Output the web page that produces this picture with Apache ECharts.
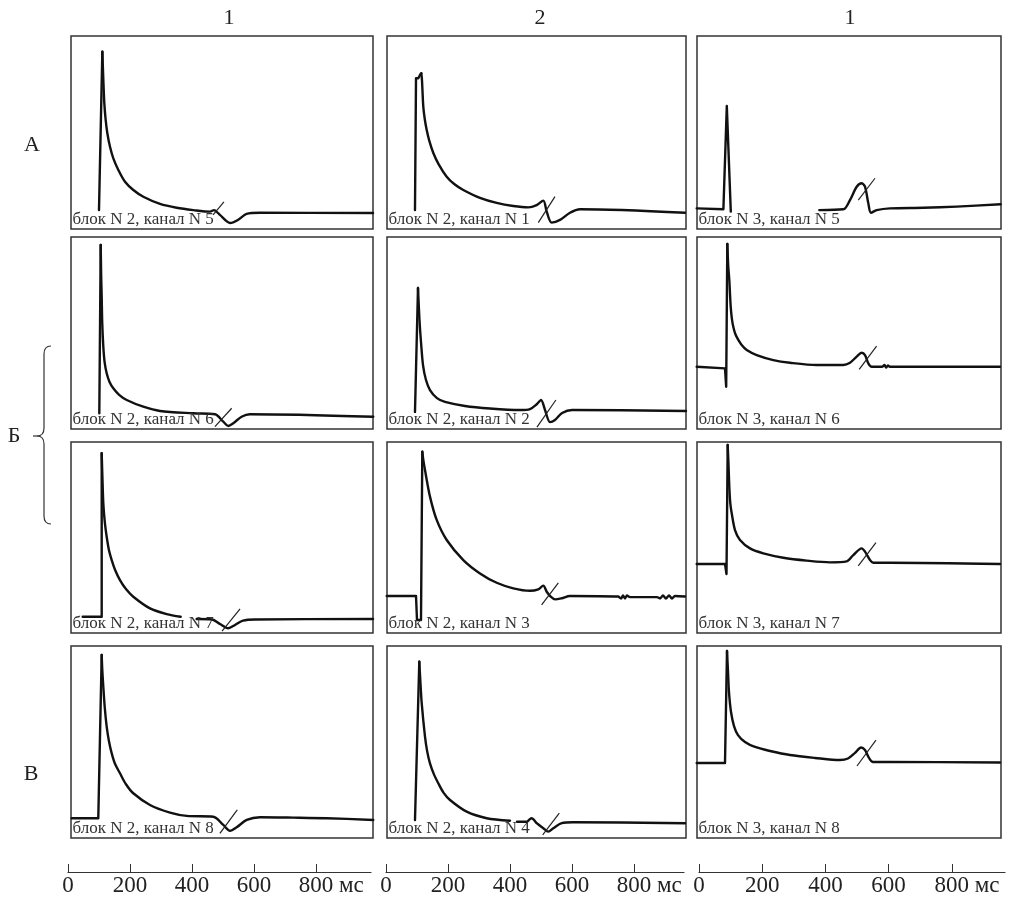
<!DOCTYPE html>
<html><head><meta charset="utf-8">
<script src="https://cdn.jsdelivr.net/npm/echarts@6/dist/echarts.min.js"></script>
<style>html,body{margin:0;padding:0;background:#fff}#c{width:1011px;height:904px}</style>
</head><body><div id="c"></div>
<script>
// ---------- text ----------
const colHeaders = ['1', '2', '1'];
const rowLabels = ['А', 'Б', 'В'];
const tickValues = [0, 200, 400, 600, 800];
const unitLabel = 'мс';
const panelLabels = [
  ['блок N 2, канал N 5', 'блок N 2, канал N 1', 'блок N 3, канал N 5'],
  ['блок N 2, канал N 6', 'блок N 2, канал N 2', 'блок N 3, канал N 6'],
  ['блок N 2, канал N 7', 'блок N 2, канал N 3', 'блок N 3, канал N 7'],
  ['блок N 2, канал N 8', 'блок N 2, канал N 4', 'блок N 3, канал N 8']
];

// ---------- traces: [time ms, amplitude % of panel height] ----------
// rise*: sharp stimulus part (straight segments), decay*: smooth response segments, slash*: hand marker
const riseA1 = [[100,9.8],[110.8,91.9]];
const decayA1 = [[[110.8,91.9],[114,77.2],[117.2,65.1],[121.5,56.5],[126.9,49.6],[135.5,42.6],[146.2,36.6],[162.4,30.6],[183.9,24.5],[210.8,20.2],[243,16.7],[296.8,13.0],[350.5,11.0],[404.3,9.8],[458,9.0],[471,9.8],[490,7.3],[523,3.1],[548,4.7],[576,7.8],[619,8.4],[984,8.3]]];
const slashA1 = [[468,7.3],[503,14.1]];

const riseA2 = [[93.5,9.8],[96.8,78.1],[104.2,78.1],[107.4,78.9],[111.3,80.3],[113.9,80.7]];
const decayA2 = [[[113.9,80.7],[116,77.2],[120.3,63.4],[125,57],[131.3,51.3],[140,45.5],[152.6,39.4],[170,33.5],[195.8,27.1],[220,23.3],[249.4,20.2],[303,16.1],[357,13.5],[410.6,11.9],[459,11.2],[486,12.4],[507.4,14.7],[518.4,9.0],[534.5,3.3],[561.3,4.7],[593.5,8.4],[625.8,10.2],[964.5,8.4]]];
const slashA2 = [[491.3,3.3],[545,16.8]];

const riseA3 = [[-7.3,10.7],[77.2,10.2],[88,63.7],[100.6,9.0]];
const decayA3 = [[[380.7,9.8],[456.6,10.2],[477.8,15],[499,21.9],[514.9,23.7],[525.3,21.9],[535.8,13.3],[544.3,8.4],[562.3,9.8],[604.4,10.7],[709.8,11.0],[815.5,11.6],[954.7,12.8]]];
const slashA3 = [[504,15],[557,26.3]];

const riseB1 = [[101,8.2],[105.5,95.8]];
const decayB1 = [[[105.5,95.8],[107,80],[108.7,68.9],[110.5,55],[113.9,42.9],[118,35],[124.8,29.0],[134,24.5],[146.1,21.2],[165,17.8],[189.4,15.1],[242.9,11.6],[296.8,9.4],[404.2,8.2],[474.2,7.7],[501,3.8],[517,1.6],[533,3.0],[560,6.4],[587,7.7],[984.8,6.4]]];
const slashB1 = [[474,1.2],[528,10.8]];

const riseB2 = [[93.5,8.9],[103.2,73.4]];
const decayB2 = [[[103.2,73.4],[108,56.8],[112.9,45.3],[119.4,33.3],[129,25.5],[141.9,20.3],[164.5,16.1],[190.3,14.1],[254.8,12.0],[335.5,10.7],[432,9.9],[464.5,10.4],[487,13.0],[500,15.1],[513,9.9],[529,3.6],[545,4.7],[568,8.3],[600,9.9],[967.7,9.4]]];
const slashB2 = [[487,1.0],[548,15.1]];

const riseB3 = [[-7.3,32.4],[82.3,31.6],[86,22.0],[89.6,96.4]];
const decayB3 = [[[89.6,96.4],[92.5,85],[95.9,77.6],[100.3,63.7],[104,57.5],[108.5,53.3],[115,49.5],[124.4,46.4],[135,43.8],[151,41.1],[182.6,38.5],[235.1,35.9],[288,34.5],[372.5,33.3],[456.6,33.3],[477.8,34.5],[499,37.7],[514.9,39.7],[525.3,38.5],[535.8,34.2],[546.5,32.4],[579,32.4],[587,33.3],[592,32.0],[598,33.1],[604.4,32.4],[952.5,32.4]]];
const slashB3 = [[507,31.1],[562,43.2]];

const riseC1 = [[47.4,8.5],[108.7,8.5],[108.7,94.1]];
const decayC1 = [
  [[108.7,94.1],[111.3,80.1],[113.9,67.9],[118.7,58.1],[124.8,50.4],[132,43.5],[141,38.2],[152,33],[167.7,27.7],[187,23],[210.6,19.0],[264.5,12.9],[318.4,9.9],[363.5,8.5]],
  [[415,7.3],[464.5,7.1],[490.3,4.7],[517,2.5],[538.7,4.2],[564.5,6.5],[603,7.1],[984,7.3]]
];
const slashC1 = [[497,1.0],[555,12.6]];

const riseC2 = [[2.3,19.4],[96.8,19.4],[100,6.8],[112.9,6.8],[117.1,94.9]];
const decayC2 = [[[117.1,94.9],[120,91],[125.8,85.3],[141.9,71.4],[163.5,59.2],[195.8,48.7],[249.4,38.2],[303.2,31.2],[357.1,26.3],[410.6,23.4],[464.5,22.1],[491.3,22.9],[507.4,24.8],[518.4,21.6],[531.3,19.0],[545.2,17.6],[566.8,18.2],[593.5,19.4],[748.4,19.1],[758,18.1],[764.5,19.6],[771,18.1],[777.4,19.6],[787,18.8],[874,18.8],[884,18.1],[893.5,19.6],[903,18.1],[913,19.6],[922.6,18.1],[932.3,19.4],[964.5,19.1]]];
const slashC2 = [[502,14.7],[556,26.3]];

const riseC3 = [[-7.3,36.1],[82.3,36.1],[87,30.9],[90.8,98.4]];
const decayC3 = [[[90.8,98.4],[93.4,88],[95.9,76.6],[99,68],[103.5,62.7],[113.9,53.9],[129.7,48.7],[161.4,44.3],[203.5,41.7],[266.8,39.4],[340.8,37.9],[414.6,37.0],[467.4,37.5],[488.3,40.8],[514.9,44.3],[525.3,42.6],[541.1,38.2],[551.6,36.8],[604.4,36.8],[952.5,36.1]]];
const slashC3 = [[504,35.1],[560,47.3]];

const riseD1 = [[11.9,10.3],[97.7,10.3],[108.7,95.3]];
const decayD1 = [[[108.7,95.3],[110.6,87.5],[113.9,78.8],[118.7,67.7],[124.8,58.0],[132,50.5],[141,44.1],[152,38.5],[167.7,33.7],[187,28],[210.6,23.3],[264.5,17.2],[329,13.2],[383,11.5],[468.7,11.1],[501,6.8],[522.6,3.8],[544.2,5.6],[576.5,9.4],[619.4,10.8],[726.8,10.6],[834.5,10.3],[984.8,9.4]]];
const slashD1 = [[490,2.4],[546,14.6]];

const riseD2 = [[93.5,9.4],[107.4,91.8]];
const decayD2 = [
  [[107.4,91.8],[110.6,82.3],[115.2,70.2],[125.8,52.8],[133,45],[141.9,38.9],[155,33],[168.7,28.5],[186,23.5],[206.5,19.8],[260.3,13.7],[324.8,10.3],[400,9.0]],
  [[422.6,8.5],[454.8,8.5],[461.3,9.4],[470,10.3],[477.4,9.4],[486.1,7.7],[507.4,5.1],[523.5,3.3],[539.7,5.1],[566.8,7.7],[604.2,8.2],[964.5,7.7]]
];
const slashD2 = [[505.5,1.6],[559,12.9]];

const riseD3 = [[-7.3,39.1],[82.3,39.1],[88.6,97.4]];
const decayD3 = [[[88.6,97.4],[91.8,86.5],[94.9,76.0],[101.3,65.6],[110.8,58.3],[123.4,53.6],[145.6,50.0],[177.2,47.4],[224.7,45.3],[288,43.2],[367,41.7],[446.2,40.6],[471.5,41.4],[493.7,44.3],[512.7,47.1],[525.3,45.8],[538,41.7],[550.6,39.6],[604.4,39.6],[952.5,39.3]]];
const slashD3 = [[500,37.5],[560,51]];

// ---------- layout ----------
const FONT = '"Liberation Serif", "DejaVu Serif", serif';
const colLeft = [71, 387, 697], colRight = [373, 686, 1001];
const rowTop = [36, 237, 442, 646], rowBottom = [229, 429, 633, 838];
const axisOrigin = [68, 386, 699], axisEnd = [371, 684, 1005], pxPerMs = [0.31, 0.31, 0.316];
const axisY = 872;

const rises = [[riseA1, riseA2, riseA3], [riseB1, riseB2, riseB3], [riseC1, riseC2, riseC3], [riseD1, riseD2, riseD3]];
const decays = [[decayA1, decayA2, decayA3], [decayB1, decayB2, decayB3], [decayC1, decayC2, decayC3], [decayD1, decayD2, decayD3]];
const slashes = [[slashA1, slashA2, slashA3], [slashB1, slashB2, slashB3], [slashC1, slashC2, slashC3], [slashD1, slashD2, slashD3]];

const traceStyle = {color: '#111', width: 2.4, join: 'round', cap: 'round'};
const grids = [], xAxes = [], yAxes = [], series = [], graphics = [];
for (let r = 0; r < 4; r++) {
  for (let c = 0; c < 3; c++) {
    const gi = grids.length;
    grids.push({left: colLeft[c], top: rowTop[r], width: colRight[c] - colLeft[c], height: rowBottom[r] - rowTop[r],
      show: true, borderColor: '#333', borderWidth: 1.5});
    xAxes.push({type: 'value', gridIndex: gi, show: false,
      min: (colLeft[c] - axisOrigin[c]) / pxPerMs[c], max: (colRight[c] - axisOrigin[c]) / pxPerMs[c]});
    yAxes.push({type: 'value', gridIndex: gi, show: false, min: 0, max: 100});
    series.push({type: 'line', xAxisIndex: gi, yAxisIndex: gi, data: rises[r][c], showSymbol: false, symbol: 'none', silent: true, lineStyle: traceStyle});
    decays[r][c].forEach(seg => series.push({type: 'line', xAxisIndex: gi, yAxisIndex: gi, data: seg,
      showSymbol: false, symbol: 'none', silent: true, smooth: 0.3, lineStyle: traceStyle}));
    series.push({type: 'line', xAxisIndex: gi, yAxisIndex: gi, data: slashes[r][c], showSymbol: false, symbol: 'none', silent: true,
      lineStyle: {color: '#222', width: 1.2}});
    graphics.push({type: 'text', z: 10, style: {text: panelLabels[r][c], x: colLeft[c] + 1.5, y: rowBottom[r] - 0.5,
      textAlign: 'left', textVerticalAlign: 'bottom', font: '17px ' + FONT, fill: '#333'}});
  }
}
// bottom time axes
for (let c = 0; c < 3; c++) {
  const gi = grids.length;
  grids.push({left: axisOrigin[c], top: axisY - 1, width: axisEnd[c] - axisOrigin[c], height: 1, show: false});
  xAxes.push({type: 'value', gridIndex: gi, min: 0, max: (axisEnd[c] - axisOrigin[c]) / pxPerMs[c], interval: 200, position: 'bottom',
    axisLine: {show: true, lineStyle: {color: '#333', width: 1.2}},
    axisTick: {show: true, inside: true, length: 8, lineStyle: {color: '#333', width: 1}, customValues: tickValues},
    axisLabel: {show: true, customValues: tickValues, fontSize: 23, fontFamily: FONT, color: '#222', margin: 2},
    splitLine: {show: false}});
  yAxes.push({type: 'value', gridIndex: gi, show: false});
}

// headers, row labels, brace
const headerX = [229, 540, 850];
colHeaders.forEach((t, i) => graphics.push({type: 'text', style: {text: t, x: headerX[i], y: 18, textAlign: 'center', textVerticalAlign: 'middle', font: '22px ' + FONT, fill: '#222'}}));
const rowLabelPos = [[32, 145], [14, 436], [31, 774]];
rowLabels.forEach((t, i) => graphics.push({type: 'text', style: {text: t, x: rowLabelPos[i][0], y: rowLabelPos[i][1], textAlign: 'center', textVerticalAlign: 'middle', font: '22px ' + FONT, fill: '#222'}}));
const braceStyle = {stroke: '#333', lineWidth: 1.2, fill: 'none'};
graphics.push(
  {type: 'bezierCurve', shape: {x1: 51, y1: 346, cpx1: 44, cpy1: 346, x2: 44, y2: 354}, style: braceStyle},
  {type: 'line', shape: {x1: 44, y1: 354, x2: 44, y2: 428}, style: braceStyle},
  {type: 'bezierCurve', shape: {x1: 44, y1: 428, cpx1: 44, cpy1: 436, x2: 37, y2: 436}, style: braceStyle},
  {type: 'bezierCurve', shape: {x1: 37, y1: 436, cpx1: 44, cpy1: 436, x2: 44, y2: 444}, style: braceStyle},
  {type: 'line', shape: {x1: 44, y1: 444, x2: 44, y2: 516}, style: braceStyle},
  {type: 'bezierCurve', shape: {x1: 44, y1: 516, cpx1: 44, cpy1: 524, x2: 51, y2: 524}, style: braceStyle},
  {type: 'line', shape: {x1: 37, y1: 436, x2: 33, y2: 436}, style: braceStyle}
);

const chart = echarts.init(document.getElementById('c'), null, {renderer: 'canvas'});
chart.setOption({animation: false, backgroundColor: '#fff', grid: grids, xAxis: xAxes, yAxis: yAxes, series: series, graphic: graphics});

// unit label after the last tick label of each time axis
const unitGraphics = [];
for (let c = 0; c < 3; c++) {
  const px = chart.convertToPixel({xAxisIndex: 12 + c}, tickValues[tickValues.length - 1]);
  unitGraphics.push({type: 'text', style: {text: unitLabel, x: px + 23, y: axisY + 2, textAlign: 'left', textVerticalAlign: 'top', font: '23px ' + FONT, fill: '#222'}});
}
chart.setOption({graphic: graphics.concat(unitGraphics)});
</script></body></html>
